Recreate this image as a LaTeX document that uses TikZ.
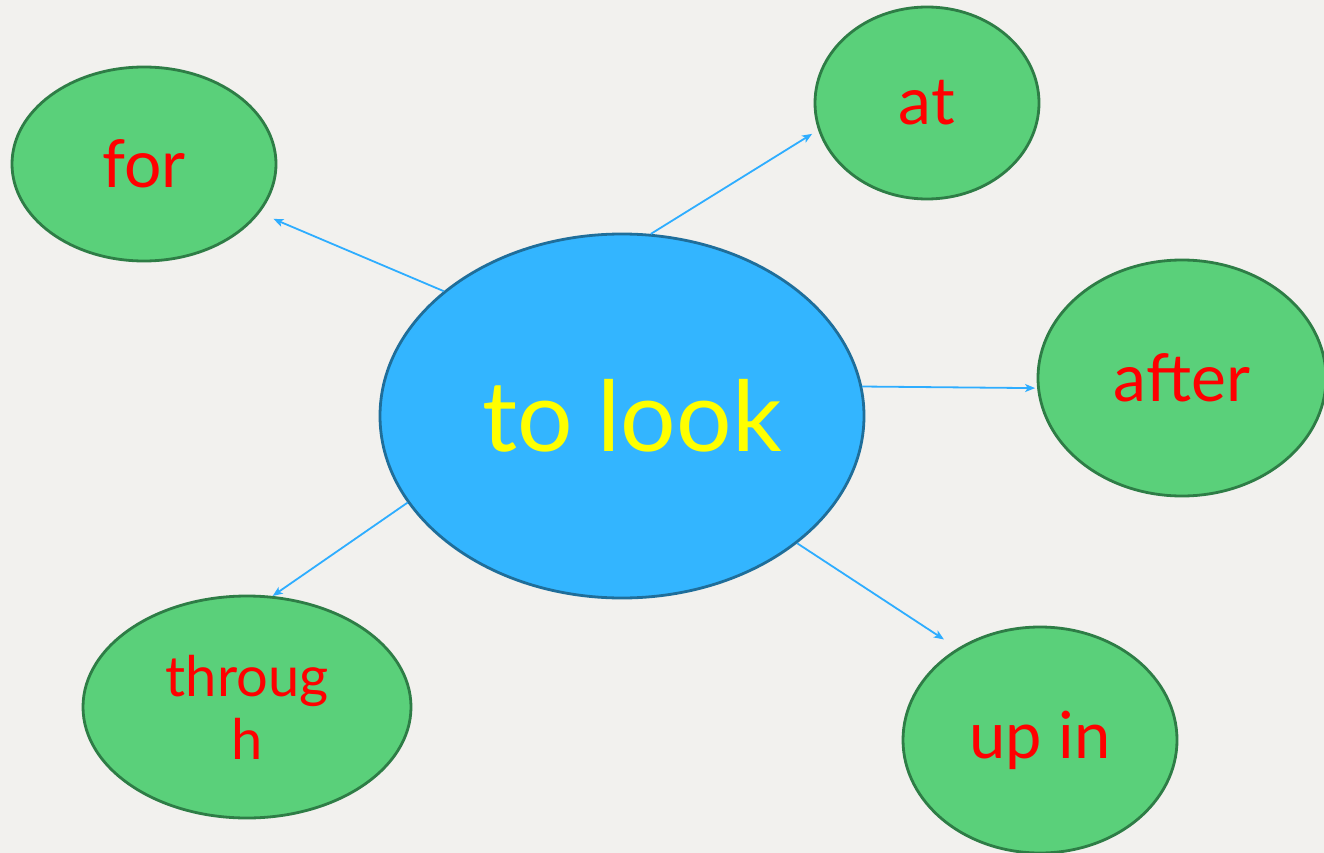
\documentclass[tikz,border=0pt]{standalone}
\usepackage{fontspec}
\setmainfont{Lato}
\usetikzlibrary{shapes.geometric,arrows.meta}
\definecolor{bg}{RGB}{242,241,238}
\definecolor{bluefill}{RGB}{51,181,255}
\definecolor{blueline}{RGB}{31,110,154}
\definecolor{greenfill}{RGB}{90,208,122}
\definecolor{greenline}{RGB}{46,125,70}
\definecolor{arrowc}{RGB}{46,173,255}
\definecolor{txtred}{RGB}{255,0,0}
\definecolor{txtyel}{RGB}{255,255,0}
\tikzset{
  mainnode/.style={ellipse, draw=blueline, fill=bluefill, line width=2.8pt, inner sep=0pt,
    text=txtyel, font=\fontsize{98}{110}\selectfont},
  leaf/.style={ellipse, draw=greenline, fill=greenfill, line width=2.8pt, inner sep=0pt,
    text=txtred, font=\fontsize{66}{74}\selectfont, align=center},
  conn/.style={draw=arrowc, line width=1.8pt, -{Stealth[length=10pt,width=8pt,inset=2.5pt]}}
}
\begin{document}
\begin{tikzpicture}[x=1pt,y=-1pt]
\useasboundingbox (0,0) rectangle (1324,853);
\fill[bg] (0,0) rectangle (1324,853);
\node[mainnode, minimum width=484pt, minimum height=364pt] (look) at (622,416) {\hspace*{20pt}to look};
\node[leaf, minimum width=264pt, minimum height=194pt] (for) at (144,164) {for};
\node[leaf, minimum width=224pt, minimum height=192pt] (at) at (927,103) {at};
\node[leaf, minimum width=288pt, minimum height=236pt] (after) at (1182,378) {after};
\node[leaf, minimum width=328pt, minimum height=222pt, font=\fontsize{56}{63}\selectfont] (through) at (247,707) {throug\\h};
\node[leaf, minimum width=274pt, minimum height=226pt, font=\fontsize{65}{73}\selectfont] (upin) at (1040,740) {up in};
\draw[conn, shorten >=15pt] (look.145.8) -- (for.-23.9);
\draw[conn, shorten >=7pt] (look.81.2) -- (at.-166.4);
\draw[conn, shorten >=2pt] (look.7.6) -- (after.-176.4);
\draw[conn, shorten >=0pt] (look.-158.9) -- (through.77.7);
\draw[conn, shorten >=16pt] (look.-36.7) -- (upin.132.5);
\end{tikzpicture}
\end{document}
